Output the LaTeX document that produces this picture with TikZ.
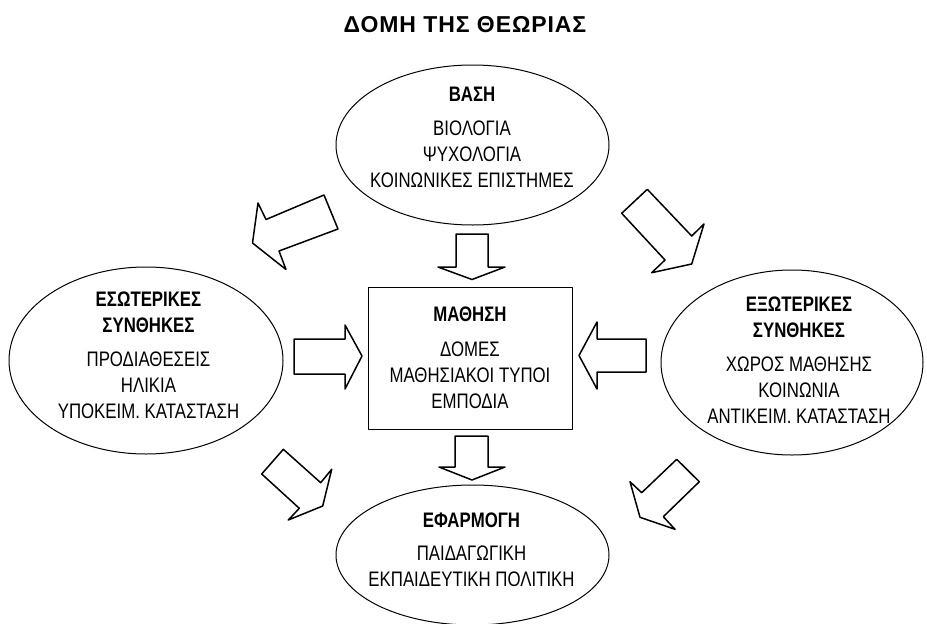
\documentclass[tikz,border=0pt]{standalone}
\usepackage{fontspec}
\setmainfont{Liberation Sans}
\newfontfamily\narrowfont[FakeStretch=0.8]{Liberation Sans}
\newfontfamily\titlefont[LetterSpace=4]{Liberation Sans}
\usetikzlibrary{shapes.geometric}
\begin{document}
\begin{tikzpicture}[x=1pt, y=-1pt, line join=round,
		oval/.style={draw, ellipse, line width=1pt, inner sep=0pt, outer sep=0pt},
		txt/.style={align=center, inner sep=0pt, font=\narrowfont\fontsize{21}{26}\selectfont},
		blockarrow/.style={draw, line width=1.5pt}]
	\useasboundingbox (0,0) rectangle (927,624);
	\node[inner sep=0pt, font=\titlefont\bfseries\fontsize{23}{28}\selectfont] (title) at (465,25) {ΔΟΜΗ ΤΗΣ ΘΕΩΡΙΑΣ};
	% ellipses
	\node[oval, minimum width=273pt, minimum height=160pt] (base) at (472.5,145) {};
	\node[oval, minimum width=274pt, minimum height=187pt] (internal) at (146,360.5) {};
	\node[oval, minimum width=262pt, minimum height=185pt] (external) at (792,362.5) {};
	\node[oval, minimum width=273pt, minimum height=140pt] (application) at (472.5,555) {};
	\node[draw, line width=1pt, minimum width=204pt, minimum height=142pt, txt] (learning) at (470,358)
		{\textbf{ΜΑΘΗΣΗ}\\[8.5pt] ΔΟΜΕΣ\\ ΜΑΘΗΣΙΑΚΟΙ ΤΥΠΟΙ\\ ΕΜΠΟΔΙΑ};
	% texts
	\node[txt] (base-text) at (472,137.5) {\textbf{ΒΑΣΗ}\\[8.5pt] ΒΙΟΛΟΓΙΑ\\ ΨΥΧΟΛΟΓΙΑ\\ ΚΟΙΝΩΝΙΚΕΣ ΕΠΙΣΤΗΜΕΣ};
	\node[txt] (internal-text) at (148.5,355.3) {\textbf{ΕΣΩΤΕΡΙΚΕΣ}\\ \textbf{ΣΥΝΘΗΚΕΣ}\\[8.5pt] ΠΡΟΔΙΑΘΕΣΕΙΣ\\ ΗΛΙΚΙΑ\\ ΥΠΟΚΕΙΜ. ΚΑΤΑΣΤΑΣΗ};
	\node[txt] (external-text) at (799,360.3) {\textbf{ΕΞΩΤΕΡΙΚΕΣ}\\ \textbf{ΣΥΝΘΗΚΕΣ}\\[8.5pt] ΧΩΡΟΣ ΜΑΘΗΣΗΣ\\ ΚΟΙΝΩΝΙΑ\\ ΑΝΤΙΚΕΙΜ. ΚΑΤΑΣΤΑΣΗ};
	\node[txt] (application-text) at (471.5,549.5) {\textbf{ΕΦΑΡΜΟΓΗ}\\[7pt] ΠΑΙΔΑΓΩΓΙΚΗ\\ ΕΚΠΑΙΔΕΥΤΙΚΗ ΠΟΛΙΤΙΚΗ};
	% block arrows
	\draw[blockarrow] (456,234) -- (488,234) -- (488,267) -- (505,267) -- (472,279.5) -- (438,267) -- (456,267) -- cycle;
	\draw[blockarrow] (455,436) -- (488,436) -- (488,467) -- (505,467) -- (472,480) -- (439,467) -- (455,467) -- cycle;
	\draw[blockarrow] (294,339) -- (345,339) -- (345,325) -- (362,356) -- (345,389) -- (345,374) -- (294,374) -- cycle;
	\draw[blockarrow] (646,339) -- (597,339) -- (597,322) -- (579,355.5) -- (597,389) -- (597,372) -- (646,372) -- cycle;
	\draw[blockarrow] (324,195) -- (338,229) -- (279,251) -- (286,269.5) -- (252.5,243) -- (258,203) -- (266,219.5) -- cycle;
	\draw[blockarrow] (647.3,189.3) -- (621.7,213.3) -- (665,260) -- (651.7,272.7) -- (691.7,264) -- (704,224) -- (691.7,236) -- cycle;
	\draw[blockarrow] (283.3,449.3) -- (261.7,474) -- (299.3,508.3) -- (288.3,520) -- (322.7,506) -- (331.7,469.3) -- (320.7,482.7) -- cycle;
	\draw[blockarrow] (676.7,459.3) -- (699.3,481.7) -- (663.3,516.7) -- (675,529.3) -- (640,517.3) -- (630,481.7) -- (641.7,492.7) -- cycle;
\end{tikzpicture}
\end{document}
